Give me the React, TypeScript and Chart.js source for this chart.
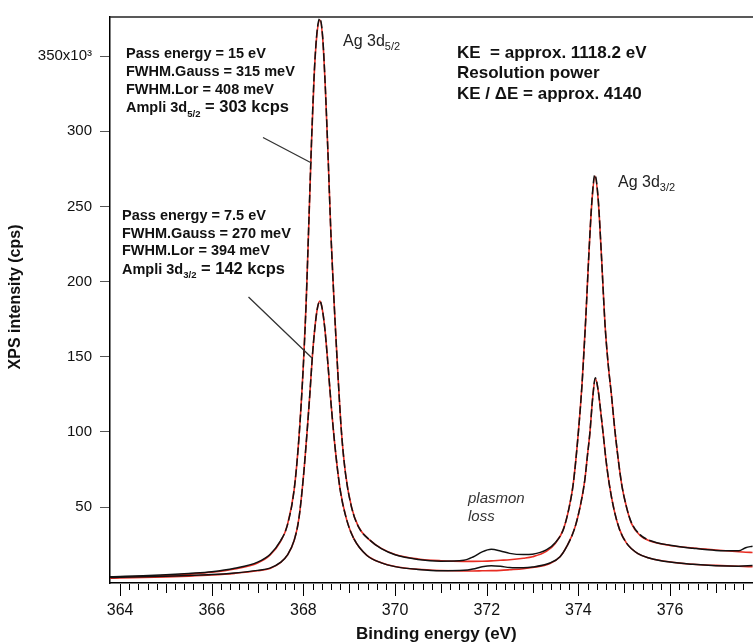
import React, { useEffect, useRef } from 'react';
import { Chart, registerables } from 'chart.js';

Chart.register(...registerables);

// Binding energy (eV) and intensity (kcps)
const energy1 = [363.78, 364.0, 364.5, 365.0, 365.5, 366.0, 366.5, 367.0, 367.27, 367.5, 367.65, 367.8, 367.9, 368.0, 368.06, 368.12, 368.18, 368.24, 368.3, 368.36, 368.42, 368.48, 368.54, 368.6, 368.67, 368.75, 368.83, 368.92, 369.05, 369.2, 369.45, 369.7, 370.0, 370.5, 371.0, 371.5, 371.7, 371.9, 372.1, 372.3, 372.5, 372.8, 373.0, 373.3, 373.5, 373.67, 373.8, 373.89, 374.0, 374.08, 374.16, 374.23, 374.3, 374.36, 374.43, 374.5, 374.58, 374.65, 374.72, 374.8, 374.94, 375.05, 375.16, 375.35, 375.56, 376.0, 376.5, 377.0, 377.5, 377.65, 377.8];
const fit15 = [3.0, 3.3, 3.8, 4.5, 5.4, 6.6, 8.8, 12.8, 18, 27, 38, 62, 95, 145, 186, 240, 295, 340, 366, 374, 362, 328, 282, 232, 186, 140, 100, 72, 50, 37, 28, 22.5, 18.5, 15.5, 14.3, 13.9, 13.9, 14.0, 14.2, 14.6, 15.0, 16.0, 17.0, 20.5, 26, 35, 50, 66, 100, 132, 175, 219, 255, 270, 255, 219, 172, 145, 125, 100, 66, 50, 39, 31, 27.5, 24.5, 22.8, 21.5, 20.3, 20.0, 19.8];
const meas15 = [3.6, 3.8, 4.3, 5.0, 5.9, 7.0, 9.3, 13.4, 18.5, 27.5, 38, 62, 95, 145, 186, 241, 296, 341, 367, 375, 363, 328, 282, 232, 186, 140, 100, 72, 50, 37, 28, 22.3, 18.3, 15.2, 14.0, 14.6, 16.8, 20.2, 21.9, 20.8, 19.2, 18.4, 18.7, 21.5, 26.5, 35, 50, 66, 100, 132, 175, 219, 256, 271, 256, 219, 172, 145, 125, 100, 66, 50, 39.5, 31.5, 27.8, 24.6, 22.6, 21.2, 21.0, 23.0, 24.0];

const energy2 = [363.78, 364.0, 364.5, 365.0, 365.5, 366.0, 366.5, 367.0, 367.27, 367.5, 367.65, 367.8, 367.9, 368.0, 368.08, 368.14, 368.2, 368.26, 368.31, 368.36, 368.41, 368.47, 368.53, 368.6, 368.69, 368.8, 368.94, 369.1, 369.38, 369.7, 370.0, 370.5, 371.0, 371.5, 371.7, 371.9, 372.1, 372.3, 372.5, 372.8, 373.0, 373.38, 373.6, 373.75, 373.92, 374.05, 374.14, 374.2, 374.25, 374.31, 374.37, 374.43, 374.5, 374.54, 374.6, 374.67, 374.78, 374.9, 375.05, 375.3, 375.56, 376.0, 376.5, 377.0, 377.5, 377.8];
const fit75 = [2.7, 2.9, 3.2, 3.6, 4.1, 4.8, 5.9, 7.6, 9.2, 13, 18, 28, 42, 70, 100, 125, 152, 172, 183, 187, 182, 168, 147, 120, 90, 62, 42, 29, 18, 13, 10.5, 8.6, 7.8, 7.5, 7.5, 7.6, 7.7, 7.9, 8.3, 9.0, 9.8, 12.5, 17, 24, 36, 52, 68, 85, 99, 122, 135.5, 128, 110, 99, 82, 66, 48, 35, 26, 19, 16, 13.5, 12, 11.2, 10.6, 10.3];
const meas75 = [3.2, 3.3, 3.6, 4.0, 4.5, 5.1, 6.2, 7.9, 9.4, 13.2, 18, 28, 42, 70, 100, 125, 152, 172, 183, 187, 182, 168, 147, 120, 90, 62, 42, 29, 18, 12.9, 10.4, 8.5, 7.6, 7.9, 8.8, 10.3, 11.0, 10.6, 9.8, 9.6, 10.1, 12.8, 17, 24, 36, 52, 68, 85, 99, 122, 136, 128, 110, 99, 82, 66, 48, 35, 26, 19, 16, 13.4, 11.9, 11.0, 10.7, 11.2];

const yTickValues = [50, 100, 150, 200, 250, 300, 350];
const xLabelValues = [364, 366, 368, 370, 372, 374, 376];
const xRange = [363.78, 377.81];
const yRange = [-0.5, 376];

const FONT = '"Liberation Sans", Arial, Helvetica, sans-serif';
const RED = 'rgb(232, 45, 35)';

const toPoints = (xs: number[], ys: number[]) => xs.map((x, i) => ({ x, y: ys[i] }));

// measured curves look dashed over the steep peaks, solid on the flat tails
const segDash = (ctx: any) =>
  ctx.p0.parsed.y > 30 || ctx.p1.parsed.y > 30 ? [8, 3] : undefined;

type Part = { text: string; font: string; dy?: number };
function drawParts(ctx: CanvasRenderingContext2D, x: number, y: number, parts: Part[]) {
  let cx = x;
  for (const p of parts) {
    ctx.font = p.font;
    ctx.fillText(p.text, cx, y + (p.dy || 0));
    cx += ctx.measureText(p.text).width;
  }
}

const decorPlugin = {
  id: 'decor',
  afterDraw(chart: any) {
    const ctx: CanvasRenderingContext2D = chart.ctx;
    const { left, right, top, bottom } = chart.chartArea;
    const xs = chart.scales.x;
    ctx.save();
    // top frame line
    ctx.strokeStyle = '#222';
    ctx.lineWidth = 1.5;
    ctx.beginPath();
    ctx.moveTo(left, top);
    ctx.lineTo(right, top);
    ctx.stroke();

    // x ticks (minor every 0.2 eV)
    ctx.lineWidth = 1;
    ctx.strokeStyle = '#000';
    for (let k = 0; k <= 70; k++) {
      const v = 364 + k * 0.2;
      if (v > xRange[1]) break;
      const px = Math.round(xs.getPixelForValue(v)) + 0.5;
      const r = Math.round(v * 10) / 10;
      let len = 6;
      if (Math.abs(r - Math.round(r)) < 1e-6) len = Math.round(r) % 2 === 0 ? 12 : 9;
      ctx.beginPath();
      ctx.moveTo(px, bottom + 1);
      ctx.lineTo(px, bottom + 1 + len);
      ctx.stroke();
    }
    // x labels
    ctx.fillStyle = '#111';
    ctx.font = `16px ${FONT}`;
    ctx.textAlign = 'center';
    ctx.textBaseline = 'middle';
    for (const v of xLabelValues) {
      ctx.fillText(String(v), xs.getPixelForValue(v), 611);
    }
    // axis titles
    ctx.font = `bold 17px ${FONT}`;
    ctx.fillText('Binding energy (eV)', xs.getPixelForValue(370.9), 634);
    ctx.save();
    ctx.translate(16, 297);
    ctx.rotate(-Math.PI / 2);
    ctx.font = `bold 16px ${FONT}`;
    ctx.fillText('XPS intensity (cps)', 0, 0);
    ctx.restore();

    // annotation blocks
    ctx.textAlign = 'left';
    ctx.textBaseline = 'alphabetic';
    ctx.fillStyle = '#111';
    const b14 = `bold 14.5px ${FONT}`;
    const b16 = `bold 16.5px ${FONT}`;
    const bk = `bold 17px ${FONT}`;
    const bsub = `bold 9.5px ${FONT}`;
    drawParts(ctx, 126, 58, [{ text: 'Pass energy = 15 eV', font: b14 }]);
    drawParts(ctx, 126, 76, [{ text: 'FWHM.Gauss = 315 meV', font: b14 }]);
    drawParts(ctx, 126, 93.5, [{ text: 'FWHM.Lor = 408 meV', font: b14 }]);
    drawParts(ctx, 126, 112, [
      { text: 'Ampli 3d', font: b14 },
      { text: '5/2', font: bsub, dy: 4.5 },
      { text: ' = 303 kcps', font: b16 },
    ]);
    drawParts(ctx, 122, 220, [{ text: 'Pass energy = 7.5 eV', font: b14 }]);
    drawParts(ctx, 122, 238, [{ text: 'FWHM.Gauss = 270 meV', font: b14 }]);
    drawParts(ctx, 122, 255, [{ text: 'FWHM.Lor = 394 meV', font: b14 }]);
    drawParts(ctx, 122, 273.5, [
      { text: 'Ampli 3d', font: b14 },
      { text: '3/2', font: bsub, dy: 4.5 },
      { text: ' = 142 kcps', font: b16 },
    ]);
    drawParts(ctx, 457, 58, [{ text: 'KE  = approx. 1118.2 eV', font: bk }]);
    drawParts(ctx, 457, 78, [{ text: 'Resolution power', font: bk }]);
    drawParts(ctx, 457, 98.5, [{ text: 'KE / \u0394E = approx. 4140', font: bk }]);

    const r16 = `16px ${FONT}`;
    const rsub = `11px ${FONT}`;
    ctx.fillStyle = '#222';
    drawParts(ctx, 343, 46, [
      { text: 'Ag 3d', font: r16 },
      { text: '5/2', font: rsub, dy: 4 },
    ]);
    drawParts(ctx, 618, 187, [
      { text: 'Ag 3d', font: r16 },
      { text: '3/2', font: rsub, dy: 4 },
    ]);
    ctx.fillStyle = '#333';
    ctx.font = `italic 15px ${FONT}`;
    ctx.fillText('plasmon', 468, 503);
    ctx.fillText('loss', 468, 521);

    // pointer lines
    ctx.strokeStyle = '#333';
    ctx.lineWidth = 1.3;
    ctx.beginPath();
    ctx.moveTo(263, 137.5);
    ctx.lineTo(311.5, 163);
    ctx.moveTo(248.5, 297);
    ctx.lineTo(312, 358);
    ctx.stroke();
    ctx.restore();
  },
};

export default function App() {
  const ref = useRef<HTMLCanvasElement>(null);
  useEffect(() => {
    if (!ref.current) return;
    const chart = new Chart(ref.current, {
      type: 'line',
      data: {
        datasets: [
          {
            label: 'measured 15 eV',
            data: toPoints(energy1, meas15),
            borderColor: '#111',
            borderWidth: 1.5,
            segment: { borderDash: segDash },
            pointRadius: 0,
            cubicInterpolationMode: 'monotone',
            order: 0,
          },
          {
            label: 'measured 7.5 eV',
            data: toPoints(energy2, meas75),
            borderColor: '#111',
            borderWidth: 1.5,
            segment: { borderDash: segDash },
            pointRadius: 0,
            cubicInterpolationMode: 'monotone',
            order: 0,
          },
          {
            label: 'fit 15 eV',
            data: toPoints(energy1, fit15),
            borderColor: RED,
            borderWidth: 1.6,
            pointRadius: 0,
            cubicInterpolationMode: 'monotone',
            order: 1,
          },
          {
            label: 'fit 7.5 eV',
            data: toPoints(energy2, fit75),
            borderColor: RED,
            borderWidth: 1.6,
            pointRadius: 0,
            cubicInterpolationMode: 'monotone',
            order: 1,
          },
        ],
      },
      options: {
        responsive: false,
        animation: false,
        layout: { padding: { top: 10, right: 0, left: 0, bottom: 0 } },
        plugins: { legend: { display: false }, tooltip: { enabled: false } },
        scales: {
          x: {
            type: 'linear',
            min: xRange[0],
            max: xRange[1],
            ticks: { display: false },
            grid: { display: false, drawTicks: false },
            border: { display: true, color: '#000', width: 1.5 },
            afterFit: (s: any) => { s.height = 61; },
          },
          y: {
            type: 'linear',
            min: yRange[0],
            max: yRange[1],
            afterBuildTicks: (axis: any) => { axis.ticks = yTickValues.map((v) => ({ value: v })); },
            ticks: {
              color: '#111',
              font: { family: FONT, size: 15 },
              padding: 8,
              callback: (v: any) => (v === 350 ? '350x10\u00b3' : String(v)),
            },
            grid: { display: true, drawOnChartArea: false, drawTicks: true, tickLength: 10, color: '#555', lineWidth: 1 },
            border: { display: true, color: '#000', width: 1.5 },
            afterFit: (s: any) => { s.width = 110; },
          },
        },
      },
      plugins: [decorPlugin],
    } as any);
    return () => chart.destroy();
  }, []);
  return (
    <div style={{ position: 'fixed', left: 0, top: 0, width: 753, height: 644, background: '#fff' }}>
      <canvas ref={ref} width={753} height={644} style={{ width: 753, height: 644, display: 'block' }} />
    </div>
  );
}
